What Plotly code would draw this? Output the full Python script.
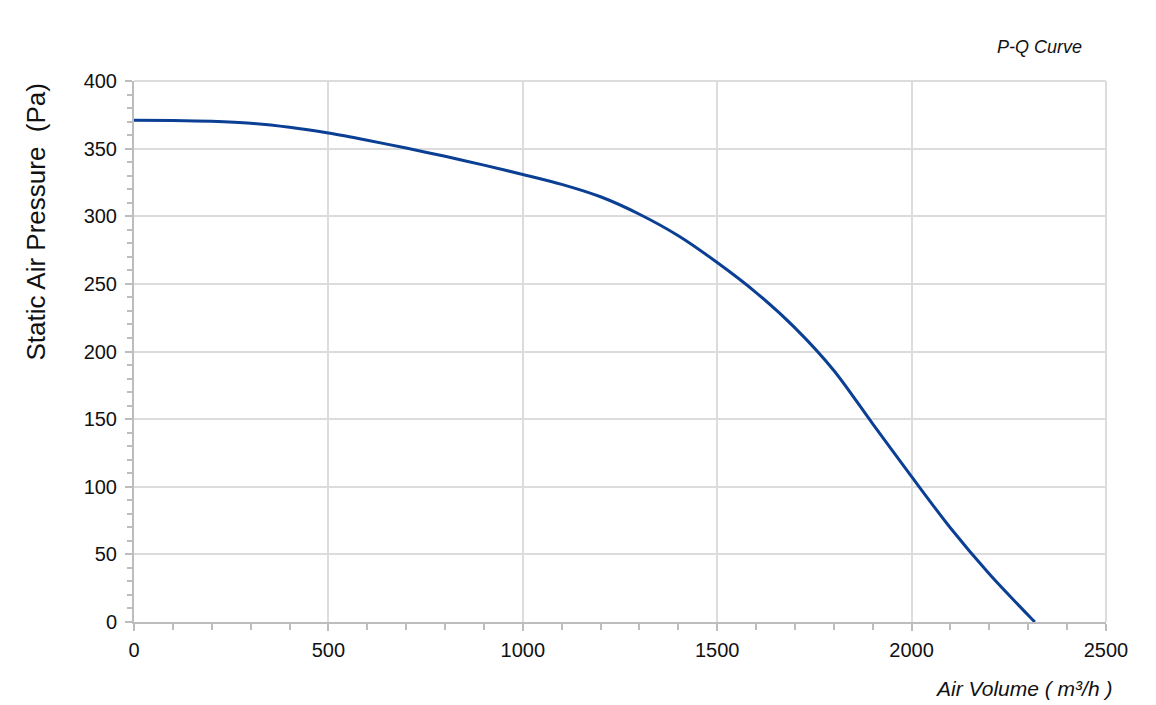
import plotly.graph_objects as go

air_volume = [0, 100, 200, 300, 400, 500, 600, 700, 800, 900, 1000, 1100, 1200, 1300,
              1400, 1500, 1600, 1700, 1800, 1900, 2000, 2100, 2200, 2300, 2317]
static_pressure = [371, 370.8, 370.2, 368.8, 365.8, 361.5, 356.2, 350.4, 344.3, 337.8, 330.9,
                   323.6, 314.4, 301.5, 285.6, 265.8, 243.6, 217.5, 186, 146.5, 107.5, 69.5,
                   35.5, 5, 0]

x_ticks = [0, 500, 1000, 1500, 2000, 2500]
y_ticks = [0, 50, 100, 150, 200, 250, 300, 350, 400]

FONT = "Liberation Sans, Arial, sans-serif"
AXIS_COL = "#bdbdbd"
GRID_COL = "#dcdcdc"

fig = go.Figure()
fig.add_trace(go.Scatter(
    x=air_volume, y=static_pressure, mode="lines",
    line=dict(color="#0a3f94", width=3, shape="spline", smoothing=0.85),
    showlegend=False, hoverinfo="x+y",
))

fig.update_layout(
    width=1156, height=705,
    margin=dict(l=126, r=58, t=73, b=91),
    paper_bgcolor="white", plot_bgcolor="white",
    font=dict(family=FONT, size=20, color="#111111"),
    xaxis=dict(
        range=[0, 2500], tickvals=x_ticks, ticktext=[str(v) for v in x_ticks],
        showgrid=True, gridcolor=GRID_COL, gridwidth=2,
        showline=True, linecolor=AXIS_COL, linewidth=2,
        ticks="outside", ticklen=7, tickcolor=AXIS_COL, tickwidth=2,
        minor=dict(dtick=100, ticks="outside", ticklen=6, tickcolor=AXIS_COL,
                   tickwidth=2, showgrid=False),
        zeroline=False, tickfont=dict(size=20, family=FONT, color="#111111"),
        ticklabelstandoff=2,
    ),
    yaxis=dict(
        range=[0, 400], tickvals=y_ticks, ticktext=[str(v) for v in y_ticks],
        showgrid=True, gridcolor=GRID_COL, gridwidth=2,
        showline=True, linecolor=AXIS_COL, linewidth=2,
        ticks="outside", ticklen=7, tickcolor=AXIS_COL, tickwidth=2,
        minor=dict(dtick=10, ticks="outside", ticklen=5, tickcolor=AXIS_COL,
                   tickwidth=2, showgrid=False),
        zeroline=False, tickfont=dict(size=20, family=FONT, color="#111111"),
        ticklabelstandoff=4,
    ),
    annotations=[
        dict(text="<i>P-Q Curve</i>", xref="paper", yref="paper",
             x=1.0, y=1.0, xanchor="right", yanchor="bottom", xshift=-22, yshift=22,
             showarrow=False, font=dict(size=18, family=FONT, color="#111111")),
        dict(text="<i>Air Volume ( m³/h )</i>", xref="paper", yref="paper",
             x=1.0, y=0.0, xanchor="right", yanchor="middle", xshift=8, yshift=-66,
             showarrow=False, font=dict(size=21, family=FONT, color="#111111")),
        dict(text="Static Air Pressure  (Pa)", xref="paper", yref="paper",
             x=0.0, y=1.0, xanchor="center", yanchor="top", xshift=-99, yshift=-1,
             textangle=-90, showarrow=False,
             font=dict(size=26, family=FONT, color="#111111")),
    ],
    shapes=[
        dict(type="line", xref="paper", yref="paper", x0=0, x1=1, y0=1, y1=1,
             line=dict(color=GRID_COL, width=2), layer="below"),
        dict(type="line", xref="paper", yref="paper", x0=1, x1=1, y0=0, y1=1,
             line=dict(color=GRID_COL, width=2), layer="below"),
    ],
)

fig.write_html("out.html")
